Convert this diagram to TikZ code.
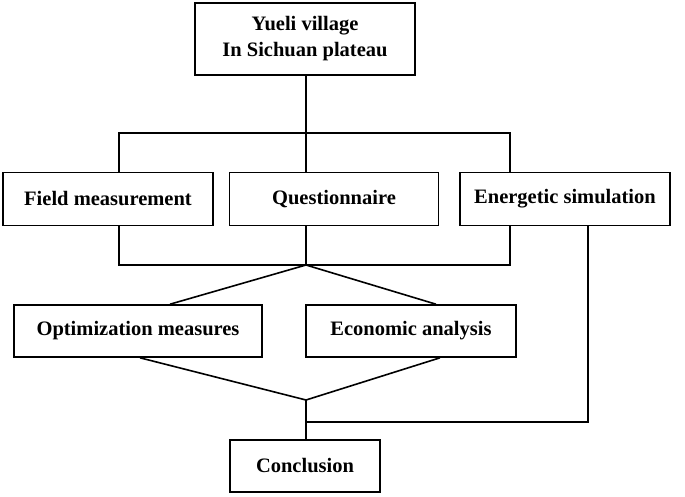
\documentclass[tikz,border=0pt]{standalone}
\usepackage{fontspec}
\setmainfont{Liberation Serif}
\begin{document}
\begin{tikzpicture}[x=1pt,y=-1pt,line width=1.6pt,
  box/.style={draw,font=\fontsize{20.5}{26}\selectfont\bfseries,align=center,inner sep=0pt}]
\useasboundingbox (0,0) rectangle (685,496);
\node[box,minimum width=220,minimum height=72] (top) at (305,39) {Yueli village\\In Sichuan plateau};
\node[box,minimum width=210,minimum height=53] (fm) at (108,199) {Field measurement};
\node[box,minimum width=209,minimum height=53] (q) at (334,199) {Questionnaire};
\node[box,minimum width=210,minimum height=53] (es) at (565,199) {Energetic simulation};
\node[box,minimum width=248,minimum height=52] (om) at (138,331) {Optimization measures};
\node[box,minimum width=210,minimum height=52] (ea) at (411,331) {Economic analysis};
\node[box,minimum width=150,minimum height=52] (c) at (305,466) {Conclusion};
\coordinate (t1) at (306,133);
\coordinate (b1) at (306,265);
\coordinate (m1) at (306,400);
\coordinate (j1) at (306,422);
\draw (top.south -| t1) -- (t1);
\draw (fm.north -| 119,0) |- (t1) -| (es.north -| 510,0);
\draw (t1) -- (q.north -| t1);
\draw (fm.south -| 119,0) |- (b1) -| (es.south -| 510,0);
\draw (q.south -| b1) -- (b1);
\draw (om.north -| 170,0) -- (b1) -- (ea.north -| 436,0);
\draw (om.south -| 140,0) -- (m1) -- (ea.south -| 440,0);
\draw (m1) -- (c.north -| m1);
\draw (es.south -| 588,0) |- (j1);
\end{tikzpicture}
\end{document}
